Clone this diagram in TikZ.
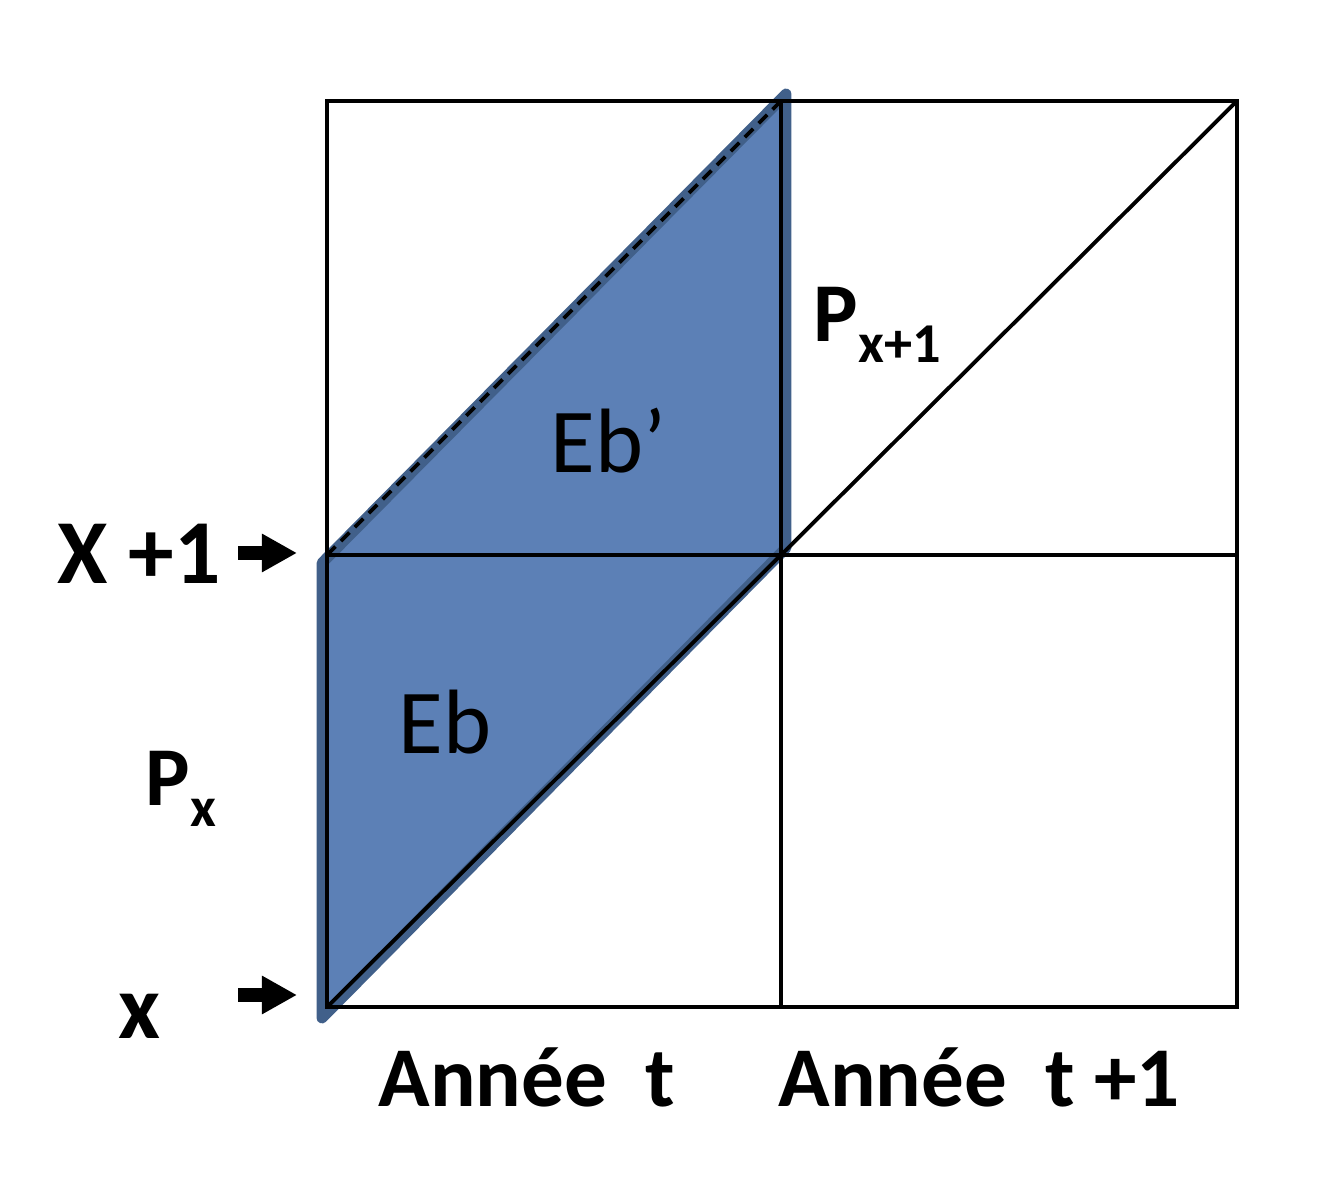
\documentclass[tikz,border=0pt]{standalone}
\usepackage{fontspec}
\setmainfont{Carlito}
\usetikzlibrary{arrows.meta}

\definecolor{ebfill}{RGB}{92,128,182}
\definecolor{ebline}{RGB}{65,96,138}

\newcommand{\subdown}[1]{\raisebox{-5.7pt}{\fontsize{16}{17}\selectfont #1}}

\begin{document}
\begin{tikzpicture}[
    x=0.01cm, y=-0.01cm,
    gridline/.style={line width=1.1pt, black},
    band/.style={
        fill=ebfill, draw=ebline,
        line width=3.1pt, line join=round
    },
    agelabel/.style={
        anchor=base west, inner sep=0pt,
        font=\fontsize{26}{30}\selectfont\bfseries
    },
    plabel/.style={
        anchor=base west, inner sep=0pt,
        font=\fontsize{23.8}{28}\selectfont\bfseries
    },
    yearlabel/.style={
        anchor=base west, inner sep=0pt,
        font=\fontsize{24.2}{28}\selectfont\bfseries
    },
    eblabel/.style={
        anchor=base west, inner sep=0pt,
        font=\fontsize{26}{30}\selectfont
    },
    arrow/.style={-{Triangle[length=3.5mm, width=3.6mm]}, line width=4pt}
]

\useasboundingbox (0,0) rectangle (1342,1180);

% --- Grid corners ---
\coordinate (bl) at (327,1007);
\coordinate (bm) at (781,1007);
\coordinate (br) at (1237,1007);
\coordinate (ml) at (327,555);
\coordinate (mm) at (781,555);
\coordinate (mr) at (1237,555);
\coordinate (tl) at (327,101);
\coordinate (tm) at (781,101);
\coordinate (tr) at (1237,101);

% --- Blue band (Eb and Eb') ---
\draw[band] (322,1018) -- (322,563) -- (786,94) -- (786,548) -- cycle;

% --- Grid ---
\draw[gridline] (bl) rectangle (tr);
\draw[gridline] (bm) -- (tm);
\draw[gridline] (ml) -- (mr);
\draw[gridline] (bl) -- (tr);
\draw[gridline, dash pattern=on 3.4pt off 2.2pt] (ml) -- (tm);

% --- Region labels ---
\node[eblabel] (ebp) at (550,473) {Eb’};
\node[eblabel] (eb) at (398,754) {Eb};

% --- Ages (left side) ---
\node[agelabel] (xp1) at (57,584) {X +1};
\node[agelabel] (x0) at (118,1039) {x};
\node[plabel] (px) at (145,806) {P\subdown{x}};
\node[plabel] (px1) at (813,342) {P\subdown{x+1}};

\coordinate (a1) at (238,553);
\coordinate (a0) at (238,995);
\draw[arrow] (a1) -- (297,553);
\draw[arrow] (a0) -- (297,995);

% --- Years (bottom) ---
\node[yearlabel] (yt) at (378,1107) {Année~~t};
\node[yearlabel] (yt1) at (778,1107) {Année~~t +1};

\end{tikzpicture}
\end{document}
